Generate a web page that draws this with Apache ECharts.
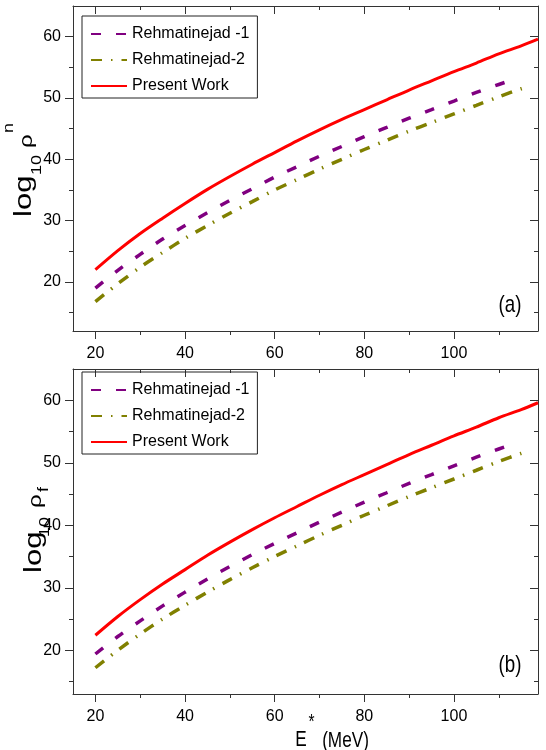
<!DOCTYPE html>
<html>
<head>
<meta charset="UTF-8">
<title>level density</title>
<script src="https://cdn.jsdelivr.net/npm/echarts@6/dist/echarts.min.js"></script>
</head>
<body style="margin:0">
<div id="box" style="width:546px;height:750px;"></div>
<script>
// excitation energies (MeV) for each curve
var ePresent = [20,25,30,35,40,45,50,55,60,65,70,75,80,85,90,95,100,105,110,115,118.75];
var eRehm1 = [20,25,30,35,40,45,50,55,60,65,70,75,80,85,90,95,100,105,110,114];
var eRehm2 = [20,25,30,35,40,45,50,55,60,65,70,75,80,85,90,95,100,105,110,115,117];

// panel (a): log10 rho_n
var presentA = [22.0,25.1,27.9,30.4,32.8,35.1,37.2,39.2,41.1,43.0,44.8,46.5,48.1,49.7,51.3,52.8,54.3,55.7,57.2,58.5,59.6];
var rehm1A = [19.0,21.9,24.5,27.0,29.2,31.3,33.3,35.2,37.1,38.8,40.5,42.1,43.7,45.2,46.7,48.1,49.5,50.9,52.2,53.2];
var rehm2A = [16.8,19.7,22.4,24.8,27.1,29.2,31.2,33.1,35.0,36.7,38.4,40.0,41.6,43.1,44.6,46.0,47.4,48.8,50.2,51.5,51.9];

// panel (b): log10 rho_f
var presentB = [22.4,25.4,28.1,30.6,32.9,35.2,37.3,39.3,41.2,43.0,44.8,46.5,48.1,49.7,51.3,52.8,54.3,55.7,57.2,58.5,59.6];
var rehm1B = [19.4,22.2,24.7,27.1,29.3,31.4,33.4,35.3,37.1,38.8,40.5,42.1,43.7,45.2,46.7,48.1,49.5,50.9,52.2,53.2];
var rehm2B = [17.2,20.0,22.6,25.0,27.2,29.3,31.3,33.2,35.0,36.7,38.4,40.0,41.6,43.1,44.6,46.0,47.4,48.8,50.2,51.5,51.9];

var xTicks = [20,40,60,80,100];
var xMinor = [30,50,70,90,110];
var yTicks = [20,30,40,50,60];
var yMinor = [15,25,35,45,55];
var names = ['Rehmatinejad -1','Rehmatinejad-2','Present Work'];

var regular = "'Liberation Sans',Arial,sans-serif";

function zip(xs, ys){
  var out = [];
  for (var i = 0; i < ys.length; i++) out.push([xs[i], ys[i]]);
  return out;
}

function mkAxis(grid, pos, min, max, vals, len, inside, line, labels){
  return {
    type:'value', gridIndex:grid, position:pos, min:min, max:max,
    axisLine:{show:line, onZero:false, lineStyle:{color:'#333', width:1}},
    axisTick:{show:true, inside:inside, length:len, customValues:vals, lineStyle:{color:'#333', width:1}},
    axisLabel:{show:labels, customValues:vals, margin:(pos=='left' ? 12 : 15), color:'#000', fontSize:16, fontFamily:regular},
    splitLine:{show:false}
  };
}

var xMin = 15, xMax = 118.75;
var yRange = [[12,65],[13,65]];
var xAxes = [], yAxes = [];
for (var g = 0; g < 2; g++){
  xAxes.push(mkAxis(g,'bottom',xMin,xMax,xTicks,8,false,true,true));
  xAxes.push(mkAxis(g,'bottom',xMin,xMax,xMinor,4,false,false,false));
  xAxes.push(mkAxis(g,'top',xMin,xMax,xTicks,8,true,true,false));
  xAxes.push(mkAxis(g,'top',xMin,xMax,xMinor,4,true,false,false));
  var lo = yRange[g][0], hi = yRange[g][1];
  yAxes.push(mkAxis(g,'left',lo,hi,yTicks,8,false,true,true));
  yAxes.push(mkAxis(g,'left',lo,hi,yMinor,4,false,false,false));
  yAxes.push(mkAxis(g,'right',lo,hi,yTicks,8,true,true,false));
  yAxes.push(mkAxis(g,'right',lo,hi,yMinor,4,true,false,false));
}

function line(name, g, xs, ys, color, type, width){
  return {
    name:name, type:'line', xAxisIndex:g*4, yAxisIndex:g*4, symbol:'none',
    smooth:0.3, clip:true, data:zip(xs, ys),
    lineStyle:{color:color, width:width, type:type}, itemStyle:{color:color}
  };
}

var series = [
  line(names[0],0,eRehm1,rehm1A,'#800080',[10,15],3.5),
  line(names[1],0,eRehm2,rehm2A,'#808000',[11,9,1.5,9],3.5),
  line(names[2],0,ePresent,presentA,'#ff0000','solid',3),
  line(names[0],1,eRehm1,rehm1B,'#800080',[10,15],3.5),
  line(names[1],1,eRehm2,rehm2B,'#808000',[11,9,1.5,9],3.5),
  line(names[2],1,ePresent,presentB,'#ff0000','solid',3)
];

function legendAt(top){
  return {
    data:names, orient:'vertical', left:82, top:top,
    itemWidth:36, itemHeight:14, itemGap:10, padding:[10,8,4,8],
    borderColor:'#222', borderWidth:1, selectedMode:false,
    itemStyle:{opacity:0},
    textStyle:{fontSize:16, fontFamily:regular, color:'#000'}
  };
}

function rot(t, x, y, size){
  return {type:'text', x:x, y:y, rotation:Math.PI/2, scaleY:0.78,
    style:{text:t, fontSize:size, fontFamily:regular, fill:'#000',
      align:'left', verticalAlign:'middle', textAlign:'left', textVerticalAlign:'middle'}};
}
function htxt(t, x, y, size){
  return {type:'text', x:x, y:y, scaleX:0.78,
    style:{text:t, fontSize:size, fontFamily:regular, fill:'#000',
      align:'center', verticalAlign:'middle', textAlign:'center', textVerticalAlign:'middle'}};
}

var mychart = echarts.init(document.getElementById('box'));
mychart.setOption({
  animation:false,
  backgroundColor:'#fff',
  grid:[
    {left:73, right:8, top:6, height:325},
    {left:73, right:8, top:369, height:325}
  ],
  xAxis:xAxes,
  yAxis:yAxes,
  legend:[legendAt(16), legendAt(372)],
  series:series,
  graphic:[
    rot('log',24,217,31), rot('10',37.4,175,18), rot('\u03c1',26.8,148,24), rot('n',9,133,18),
    rot('log',34,573,31), rot('10',45.4,537,18), rot('\u03c1',35.8,508,24), rot('f',44,492,18),
    htxt('(a)',510,305,24), htxt('(b)',510,665,24),
    htxt('E',301,740,22), htxt('*',311.5,722,20), htxt('(MeV)',345.5,741,22)
  ]
});
</script>
</body>
</html>
